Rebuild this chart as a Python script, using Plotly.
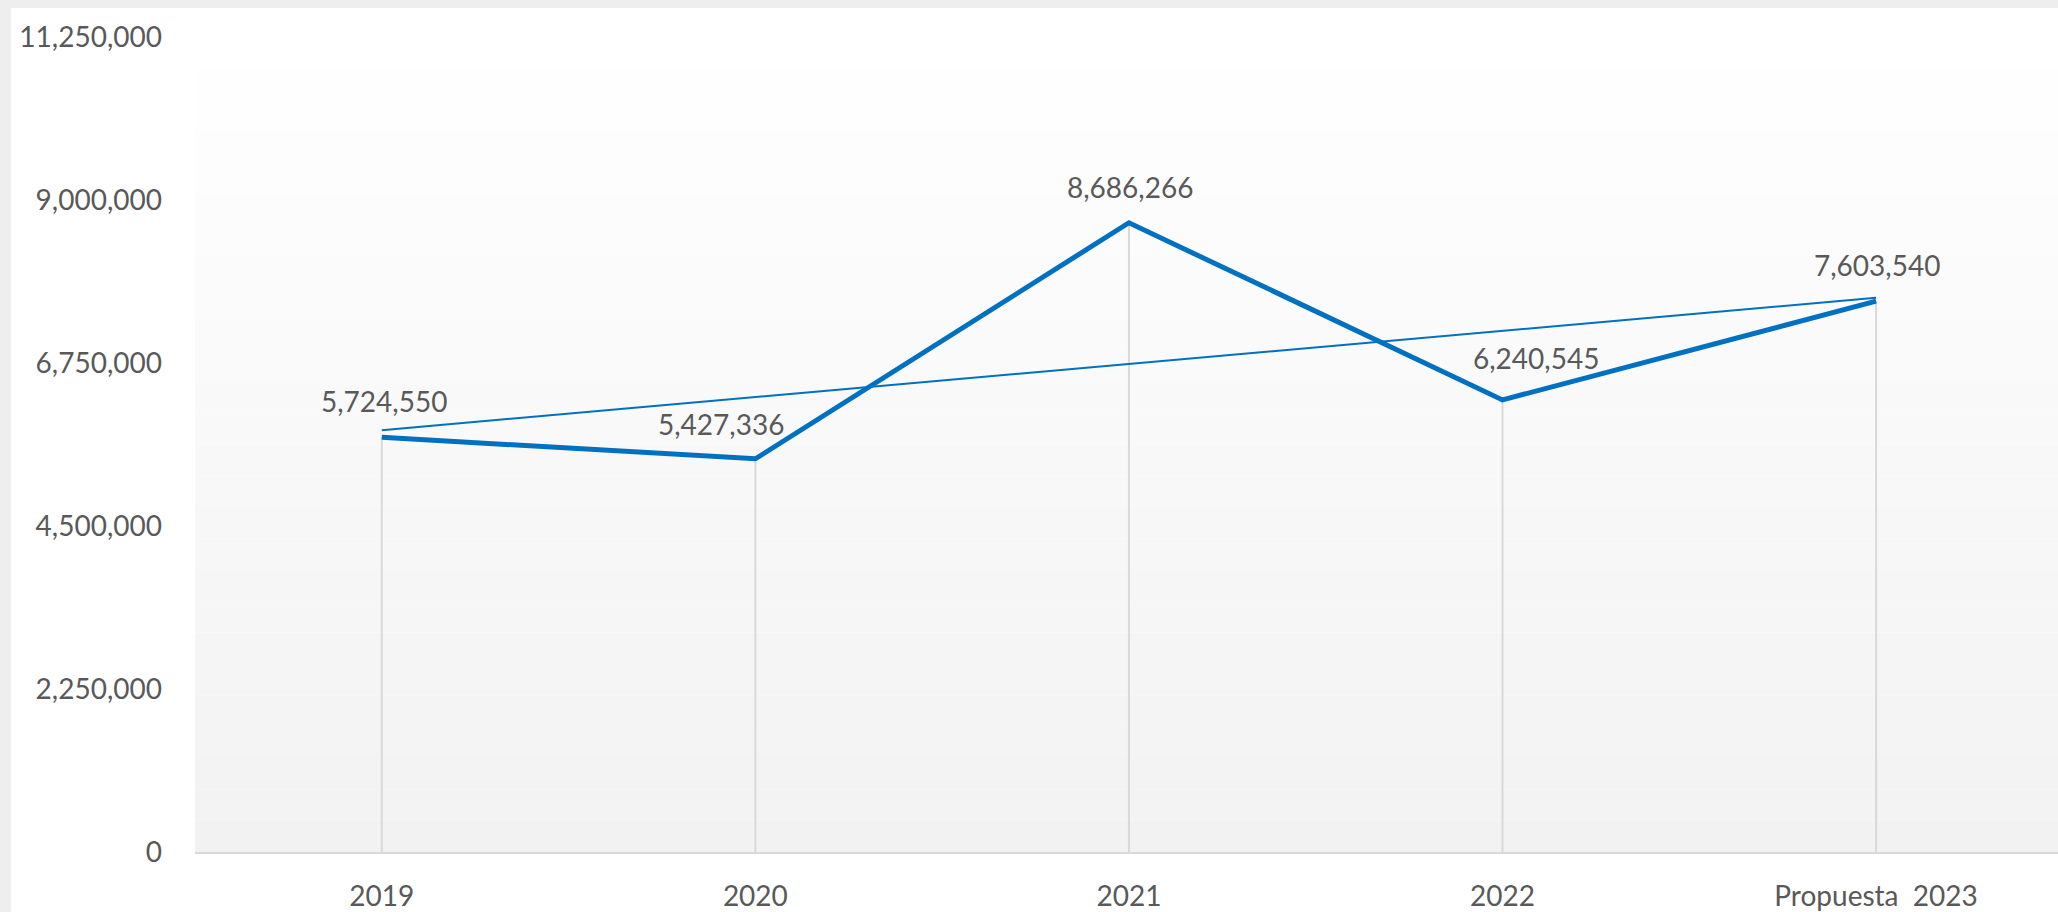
import plotly.graph_objects as go

# ---- data ----
categories = ["2019", "2020", "2021", "2022", "Propuesta\u00a0 2023"]
values = [5724550, 5427336, 8686266, 6240545, 7603540]
value_labels = ["5,724,550", "5,427,336", "8,686,266", "6,240,545", "7,603,540"]
# linear trendline end points
trend_x = ["2019", "Propuesta\u00a0 2023"]
trend_y = [5822000, 7651000]
y_ticks = [0, 2250000, 4500000, 6750000, 9000000, 11250000]
y_tick_text = ["0", "2,250,000", "4,500,000", "6,750,000", "9,000,000", "11,250,000"]
# label offsets (pixels) as placed in the reference
label_xshift = [2, -34, 1, 33, 1]
label_yshift = [36, 35, 36, 42, 36]

W, H = 2058, 912
ML, MR, MT, MB = 195, 0, 37, 60
PW, PH = W - ML - MR, H - MT - MB

BLUE = "#0070C0"
TXT = "#595959"
FONT = "Lato"

fig = go.Figure()

# drop lines (from each point down to the axis)
fig.add_trace(go.Scatter(
    x=categories, y=values, mode="markers",
    marker=dict(size=1, color="rgba(0,0,0,0)"),
    error_y=dict(type="data", symmetric=False, array=[0] * len(values),
                 arrayminus=values, width=0, thickness=2, color="#d9d9d9"),
    hoverinfo="skip", showlegend=False))

# trendline
fig.add_trace(go.Scatter(
    x=trend_x, y=trend_y, mode="lines",
    line=dict(color=BLUE, width=2), showlegend=False, hoverinfo="skip"))

# main series
fig.add_trace(go.Scatter(
    x=categories, y=values, mode="lines",
    line=dict(color=BLUE, width=5), showlegend=False))

for i, (v, t, xs, ys) in enumerate(zip(values, value_labels, label_xshift, label_yshift)):
    fig.add_annotation(x=i, y=v, text=t, showarrow=False, xshift=xs, yshift=ys,
                       font=dict(family=FONT, size=28, color=TXT))

shapes = []
# gradient plot-area background (white at top -> #f2f2f2 at bottom)
n = 26
for i in range(n):
    y0 = i / n
    y1 = (i + 1) / n
    g = round(242 + (255 - 242) * (i + 0.5) / n)
    shapes.append(dict(type="rect", xref="paper", yref="paper", x0=0, x1=1.01,
                       y0=y0, y1=y1, fillcolor=f"rgb({g},{g},{g})",
                       line=dict(width=0), layer="below"))
# thin grey frame at left and top of the chart
shapes.append(dict(type="rect", xref="paper", yref="paper",
                   x0=-ML / PW, x1=(11 - ML) / PW, y0=-MB / PH, y1=(H - MB) / PH,
                   fillcolor="#eeeeee", line=dict(width=0), layer="below"))
shapes.append(dict(type="rect", xref="paper", yref="paper",
                   x0=-ML / PW, x1=1.01, y0=(H - MB - 8) / PH, y1=(H - MB) / PH,
                   fillcolor="#eeeeee", line=dict(width=0), layer="below"))

fig.update_layout(
    width=W, height=H,
    margin=dict(l=ML, r=MR, t=MT, b=MB, pad=0),
    paper_bgcolor="white", plot_bgcolor="rgba(0,0,0,0)",
    shapes=shapes,
    showlegend=False,
    font=dict(family=FONT, size=28, color=TXT),
)
fig.update_xaxes(
    type="category", range=[-0.5, 4.487],
    showgrid=False, zeroline=False,
    showline=True, linecolor="#d9d9d9", linewidth=2,
    ticks="", ticklabelstandoff=18,
    tickfont=dict(family=FONT, size=28, color=TXT),
)
fig.update_yaxes(
    range=[0, 11250000], tickvals=y_ticks, ticktext=y_tick_text,
    showgrid=False, zeroline=False, showline=False,
    ticks="", ticklabelstandoff=32,
    tickfont=dict(family=FONT, size=28, color=TXT),
)

fig.write_html(
    "out.html",
    config={"displayModeBar": False},
    post_script="document.body.style.margin='0';document.body.style.overflow='hidden';",
)
